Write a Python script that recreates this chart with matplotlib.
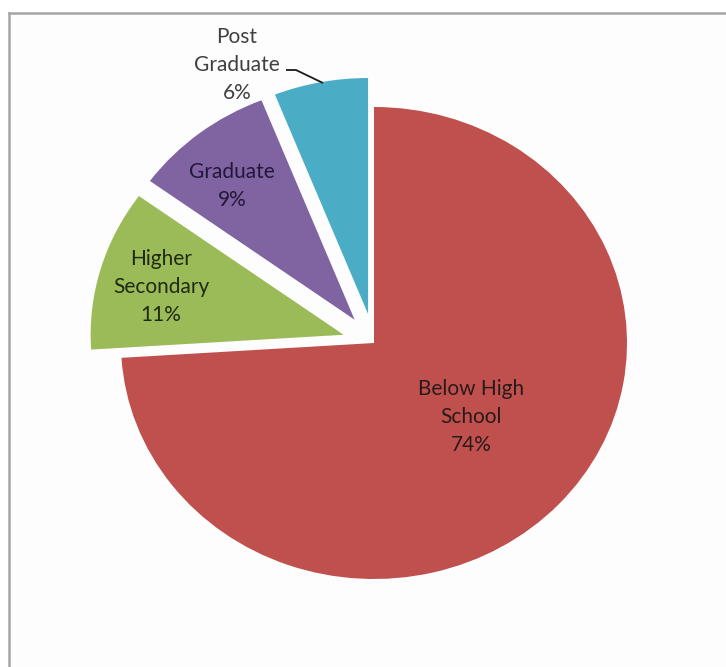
import matplotlib
matplotlib.use("Agg")
import matplotlib.pyplot as plt
from matplotlib.lines import Line2D

# Education level distribution
categories = ["Below High School", "Higher Secondary", "Graduate", "Post Graduate"]
shares = [74, 11, 9, 6]
label_text = ["Below High\nSchool", "Higher\nSecondary", "Graduate", "Post\nGraduate"]

colors = ["#C0504D", "#9BBB59", "#8064A2", "#4BACC6"]
explode = [0.0, 0.125, 0.125, 0.125]

W, H = 726, 667
fig = plt.figure(figsize=(W / 100, H / 100), dpi=100)
fig.patch.set_facecolor("white")

# chart-area frame (only the top and left edges fall inside the canvas)
fig.add_artist(plt.Rectangle((9 / W, 0), 1, (H - 13) / H, transform=fig.transFigure,
                             facecolor="#fdfdfd", edgecolor="none", zorder=0))
fig.add_artist(Line2D([9 / W, 9 / W], [0, (H - 13) / H], transform=fig.transFigure,
                      color="#a6a6a6", lw=1.8, zorder=1))
fig.add_artist(Line2D([9 / W, 1], [(H - 13) / H, (H - 13) / H], transform=fig.transFigure,
                      color="#a6a6a6", lw=1.8, zorder=1))

ax = fig.add_axes([0, 0, 1, 1])
ax.patch.set_alpha(0)

wedges, _ = ax.pie(shares, colors=colors, explode=explode, startangle=90,
                   counterclock=False, radius=1.0,
                   wedgeprops=dict(linewidth=0))

# pixel geometry of the plot area
cx, cy = 374, 343
rx, ry = 253, 236
ax.set_aspect("auto")
ax.set_xlim(-cx / rx, (W - cx) / rx)
ax.set_ylim(-(H - cy) / ry, cy / ry)
ax.axis("off")

def to_data(px, py):
    return (px - cx) / rx, (cy - py) / ry

label_px = [(471, 417), (161, 287), (232, 186), (237, 65)]
text_colors = ["#2a1a1a", "#1f2a10", "#22183a", "#404040"]
for name, val, (px, py), tc in zip(label_text, shares, label_px, text_colors):
    x, y = to_data(px, py)
    ax.text(x, y, f"{name}\n{val}%", ha="center", va="center", fontsize=15,
            family="Lato", color=tc, linespacing=1.5)

# leader line for the small outer label
pts = [to_data(286, 70), to_data(296, 70), to_data(323, 83)]
ax.plot([p[0] for p in pts], [p[1] for p in pts], color="#1a1a1a", lw=1.3,
        solid_capstyle="butt")

fig.savefig("out.png", dpi=100, facecolor="white")
